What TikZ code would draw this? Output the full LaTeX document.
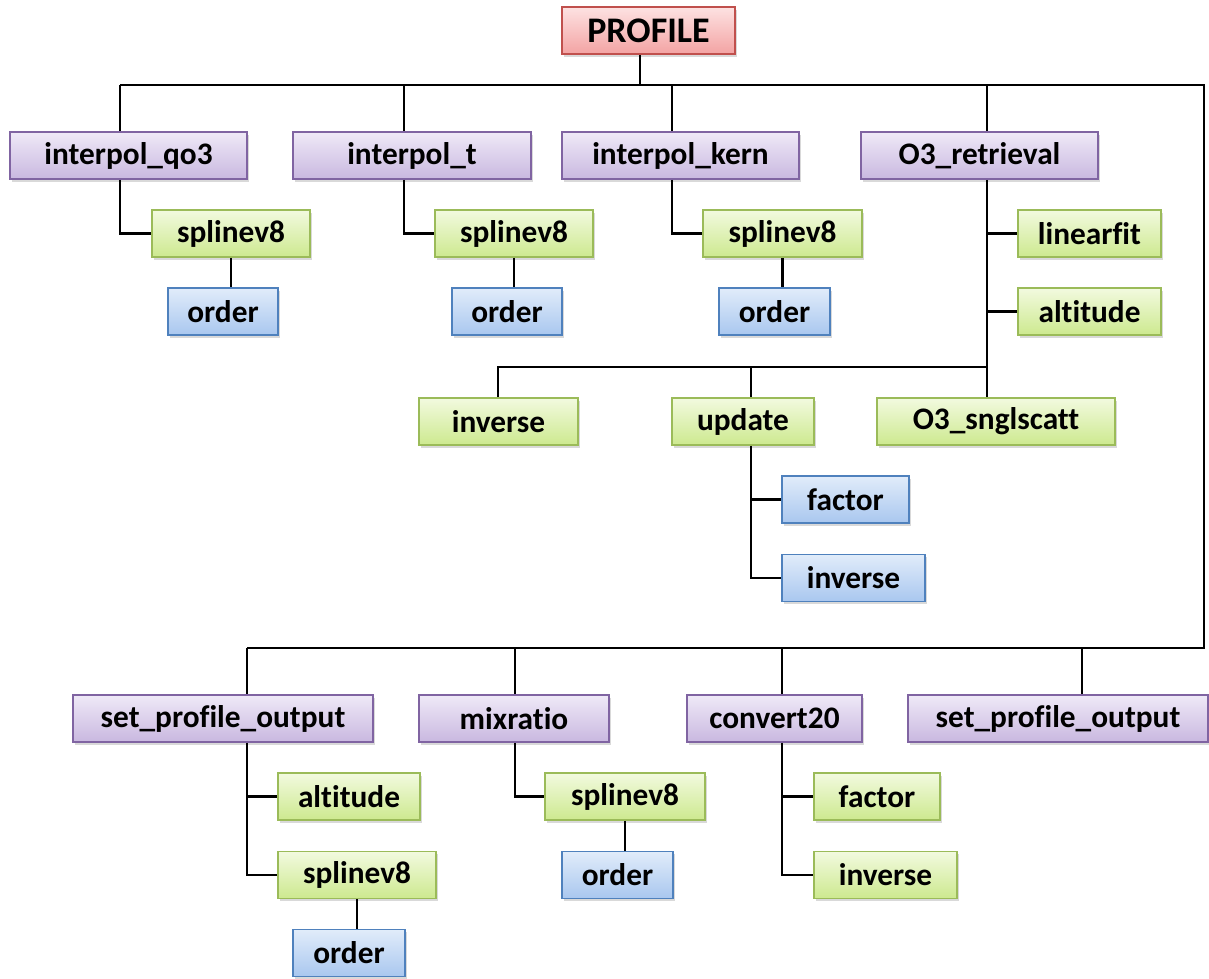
\documentclass[tikz,border=0pt]{standalone}
\usepackage{fontspec}
\setmainfont{Carlito}[Ligatures=NoCommon]
\usepackage{tikz}
\usetikzlibrary{shadows}

\definecolor{redTop}{HTML}{FDE2E2}
\definecolor{redBot}{HTML}{F3A3A3}
\definecolor{redLine}{HTML}{C0504D}
\definecolor{purpTop}{HTML}{EFE9F7}
\definecolor{purpBot}{HTML}{C9B8E0}
\definecolor{purpLine}{HTML}{8064A2}
\definecolor{grnTop}{HTML}{F2FADF}
\definecolor{grnBot}{HTML}{CDE98F}
\definecolor{grnLine}{HTML}{9BBB59}
\definecolor{bluTop}{HTML}{E1ECFA}
\definecolor{bluBot}{HTML}{A9C7EF}
\definecolor{bluLine}{HTML}{4F81BD}

\begin{document}
\begin{tikzpicture}[x=0.75pt, y=-0.75pt,
  box/.style={draw, line width=1.2pt, inner sep=0pt, minimum height=35.25pt,
    font=\bfseries\fontsize{23.5}{28}\selectfont,
    drop shadow={shadow xshift=1.5pt, shadow yshift=-2pt, opacity=0.3}},
  wd/.style={minimum width=#1*0.75pt},
  rootbox/.style={box, top color=redTop, bottom color=redBot, draw=redLine, font=\bfseries\fontsize{27}{32}\selectfont},
  fnbox/.style={box, top color=purpTop, bottom color=purpBot, draw=purpLine},
  subbox/.style={box, top color=grnTop, bottom color=grnBot, draw=grnLine},
  leafbox/.style={box, top color=bluTop, bottom color=bluBot, draw=bluLine},
  link/.style={line width=2.2pt},
]
\useasboundingbox (0,0) rectangle (1209,978);

\node[rootbox, wd=173] (profile) at (648.5,30.5) {PROFILE};

% upper routines
\node[fnbox, wd=237] (qo3) at (128.5,155.5) {interpol\_qo3};
\node[fnbox, wd=238] (intt) at (412,155.5) {interpol\_t};
\node[fnbox, wd=237] (kern) at (680.5,155.5) {interpol\_kern};
\node[fnbox, wd=237] (o3r) at (979.5,155.5) {O3\_retrieval};

\node[subbox, wd=158] (spl1) at (231,233.5) {splinev8};
\node[subbox, wd=158] (spl2) at (514,233.5) {splinev8};
\node[subbox, wd=159] (spl3) at (782.5,233.5) {splinev8};
\node[subbox, wd=143] (linfit) at (1089.5,233.5) {linearfit};

\node[leafbox, wd=110] (ord1) at (223,311.5) {order};
\node[leafbox, wd=110] (ord2) at (507,311.5) {order};
\node[leafbox, wd=111] (ord3) at (774.5,311.5) {order};
\node[subbox, wd=143] (alt1) at (1089.5,311.5) {altitude};

\node[subbox, wd=159] (inv1) at (498.5,421.5) {inverse};
\node[subbox, wd=142] (upd) at (743,421.5) {update};
\node[subbox, wd=238] (sngl) at (996,421.5) {O3\_snglscatt};

\node[leafbox, wd=127] (fac1) at (845.5,499.5) {factor};
\node[leafbox, wd=143] (inv2) at (853.5,578) {inverse};

% lower routines
\node[fnbox, wd=300] (spo1) at (223,718.5) {set\_profile\_output};
\node[fnbox, wd=190] (mix) at (514,718.5) {mixratio};
\node[fnbox, wd=175] (conv) at (774.5,718.5) {convert20};
\node[fnbox, wd=300] (spo2) at (1058,718.5) {set\_profile\_output};

\node[subbox, wd=142] (alt2) at (349,796.5) {altitude};
\node[subbox, wd=160] (spl4) at (625,796.5) {splinev8};
\node[subbox, wd=126] (fac2) at (877,796.5) {factor};

\node[subbox, wd=158] (spl5) at (357,875) {splinev8};
\node[leafbox, wd=111] (ord4) at (617.5,875) {order};
\node[subbox, wd=143] (inv3) at (885.5,875) {inverse};

\node[leafbox, wd=112] (ord5) at (349,953) {order};

% bus points
\coordinate (busL) at (120,85);
\coordinate (busR) at (1204,85);
\coordinate (lowR) at (1204,648);
\coordinate (lowL) at (247,648);
\coordinate (dRoot) at (640,85);
\coordinate (dQo3) at (120,85);
\coordinate (dT) at (404,85);
\coordinate (dKern) at (672,85);
\coordinate (dO3) at (987,85);
\coordinate (midL) at (498,367);
\coordinate (midR) at (987,367);
\coordinate (dUpd) at (751,367);
\coordinate (dSpo1) at (247,648);
\coordinate (dMix) at (515,648);
\coordinate (dConv) at (782,648);
\coordinate (dSpo2) at (1082,648);

\draw[link] (busL) -- (busR) -- (lowR) -- (lowL);
\draw[link] (dRoot |- profile.south) -- (dRoot);
\foreach \d/\n in {dQo3/qo3, dT/intt, dKern/kern, dO3/o3r, dSpo1/spo1, dMix/mix, dConv/conv, dSpo2/spo2}
  \draw[link] (\d) -- (\d |- \n.north);

\draw[link] (dQo3 |- qo3.south) |- (spl1.west);
\draw[link] (dT |- intt.south) |- (spl2.west);
\draw[link] (dKern |- kern.south) |- (spl3.west);
\foreach \s/\o in {spl1/ord1, spl2/ord2, spl3/ord3, spl4/ord4, spl5/ord5}
  \draw[link] (\s.south) -- (\s.south |- \o.north);

\draw[link] (dO3 |- o3r.south) -- (dO3 |- sngl.north);
\draw[link] (dO3 |- linfit.west) -- (linfit.west);
\draw[link] (dO3 |- alt1.west) -- (alt1.west);
\draw[link] (midR) -- (midL) -- (midL |- inv1.north);
\draw[link] (dUpd) -- (dUpd |- upd.north);
\draw[link] (dUpd |- upd.south) |- (inv2.west);
\draw[link] (dUpd |- fac1.west) -- (fac1.west);

\draw[link] (dSpo1 |- spo1.south) |- (spl5.west);
\draw[link] (dSpo1 |- alt2.west) -- (alt2.west);
\draw[link] (dMix |- mix.south) |- (spl4.west);
\draw[link] (dConv |- conv.south) |- (inv3.west);
\draw[link] (dConv |- fac2.west) -- (fac2.west);

\end{tikzpicture}
\end{document}
